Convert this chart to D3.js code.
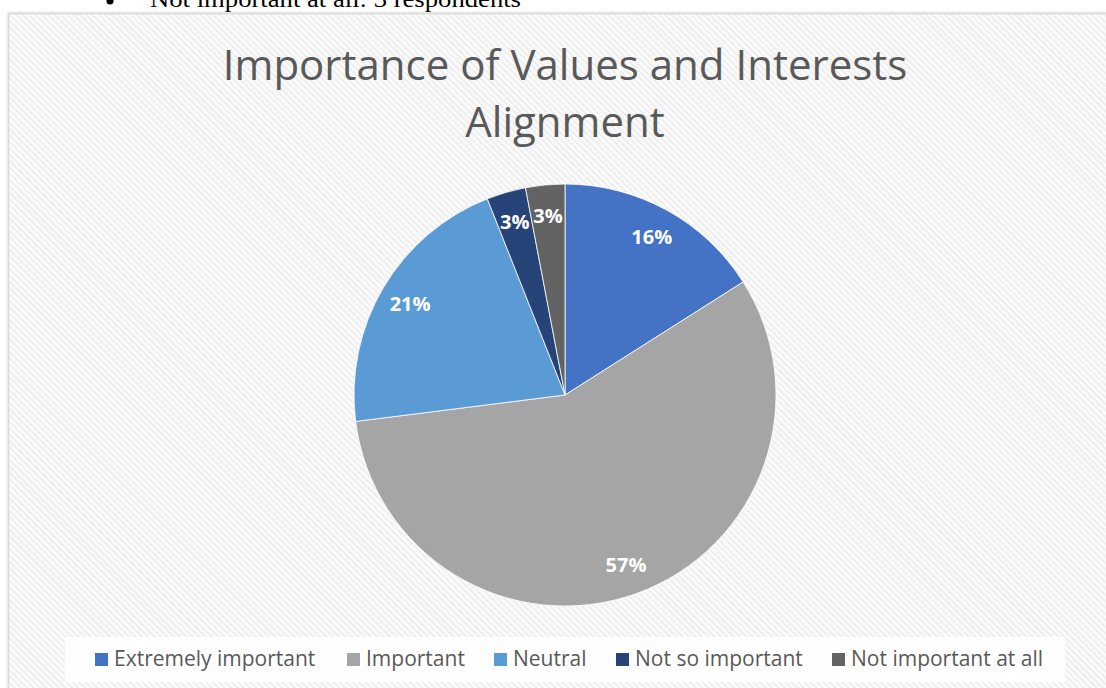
<!DOCTYPE html>
<head>
  <meta charset="utf-8">
  <script src="https://d3js.org/d3.v7.min.js"></script>
  <style>
    body { margin: 0; background: #fff; overflow: hidden; }
    svg { display: block; }
  </style>
</head>
<body>
<script type="text/javascript">
  // data
  var categories = ["Extremely important", "Important", "Neutral", "Not so important", "Not important at all"];
  var values = [16, 57, 21, 3, 3];
  var colors = ["#4472C4", "#A5A5A5", "#5B9BD5", "#264478", "#636363"];
  var titleLines = ["Importance of Values and Interests", "Alignment"];
  var topNote = "Not important at all: 3 respondents";

  var width = 1106, height = 688;
  var cx = 565, cy = 395, radius = 211;

  var svg = d3.select("body").append("svg")
    .attr("width", width)
    .attr("height", height);

  // diagonal hatch for the chart area
  var defs = svg.append("defs");
  var pat = defs.append("pattern")
    .attr("id", "hatch")
    .attr("width", 4.5).attr("height", 4.5)
    .attr("patternUnits", "userSpaceOnUse")
    .attr("patternTransform", "rotate(-45)");
  pat.append("rect").attr("width", 4.5).attr("height", 4.5).attr("fill", "#fbfbfb");
  pat.append("rect").attr("width", 2).attr("height", 4.5).attr("fill", "#eeeeee");

  var shadow = defs.append("filter").attr("id", "shadow")
    .attr("x", "-5%").attr("y", "-5%").attr("width", "110%").attr("height", "110%");
  shadow.append("feGaussianBlur").attr("in", "SourceAlpha").attr("stdDeviation", 1.2);
  shadow.append("feOffset").attr("dx", 0).attr("dy", 0).attr("result", "b");
  shadow.append("feFlood").attr("flood-color", "#000").attr("flood-opacity", 0.25);
  shadow.append("feComposite").attr("in2", "b").attr("operator", "in");
  var merge = shadow.append("feMerge");
  merge.append("feMergeNode");
  merge.append("feMergeNode").attr("in", "SourceGraphic");

  // text above the chart (from the surrounding document, cropped in the original)
  svg.append("circle").attr("cx", 110).attr("cy", 1).attr("r", 3.5).attr("fill", "#000");
  svg.append("text")
    .attr("x", 150).attr("y", 7)
    .attr("font-family", "Liberation Serif, serif")
    .attr("font-size", 24)
    .attr("textLength", 371)
    .attr("lengthAdjust", "spacingAndGlyphs")
    .attr("fill", "#000")
    .text(topNote);

  // chart frame
  svg.append("rect")
    .attr("x", 8.5).attr("y", 13.5)
    .attr("width", 1120).attr("height", 700)
    .attr("fill", "url(#hatch)")
    .attr("stroke", "#d9d9d9")
    .attr("stroke-width", 1.5)
    .attr("filter", "url(#shadow)");

  // title
  var title = svg.append("text")
    .attr("text-anchor", "middle")
    .attr("font-family", "Open Sans, sans-serif")
    .attr("font-size", 42)
    .attr("fill", "#595959");
  title.selectAll("tspan").data(titleLines).join("tspan")
    .attr("x", cx)
    .attr("y", function(d, i) { return 80 + i * 57; })
    .text(function(d) { return d; });

  // pie
  var pie = d3.pie().sort(null).value(function(d) { return d.value; });
  var rows = categories.map(function(c, i) { return { name: c, value: values[i], color: colors[i] }; });
  var arcs = pie(rows);
  var total = d3.sum(values);

  var arc = d3.arc().innerRadius(0).outerRadius(radius);
  var labelArc = d3.arc().innerRadius(180).outerRadius(180);

  var g = svg.append("g").attr("transform", "translate(" + cx + "," + cy + ")");
  g.selectAll("path").data(arcs).join("path")
    .attr("d", arc)
    .attr("fill", function(d) { return d.data.color; })
    .attr("stroke", "#fff")
    .attr("stroke-width", 0.8);

  g.selectAll("text").data(arcs).join("text")
    .attr("transform", function(d) { return "translate(" + labelArc.centroid(d) + ")"; })
    .attr("text-anchor", "middle")
    .attr("dy", "0.36em")
    .attr("font-family", "Open Sans, sans-serif")
    .attr("font-weight", "bold")
    .attr("font-size", 20)
    .attr("fill", "#fff")
    .text(function(d) { return Math.round(d.data.value / total * 100) + "%"; });

  // legend
  svg.append("rect")
    .attr("x", 65).attr("y", 637)
    .attr("width", 1000).attr("height", 45)
    .attr("fill", "#fff").attr("fill-opacity", 0.9);

  var legendX = [95, 347, 494, 616, 832];
  var leg = svg.append("g").selectAll("g").data(rows).join("g")
    .attr("transform", function(d, i) { return "translate(" + legendX[i] + ",659)"; });
  leg.append("rect")
    .attr("x", 0).attr("y", -6)
    .attr("width", 13).attr("height", 13)
    .attr("fill", function(d) { return d.color; });
  leg.append("text")
    .attr("x", 19).attr("dy", "0.35em")
    .attr("font-family", "Open Sans, sans-serif")
    .attr("font-size", 21)
    .attr("fill", "#595959")
    .text(function(d) { return d.name; });
</script>
</body>
